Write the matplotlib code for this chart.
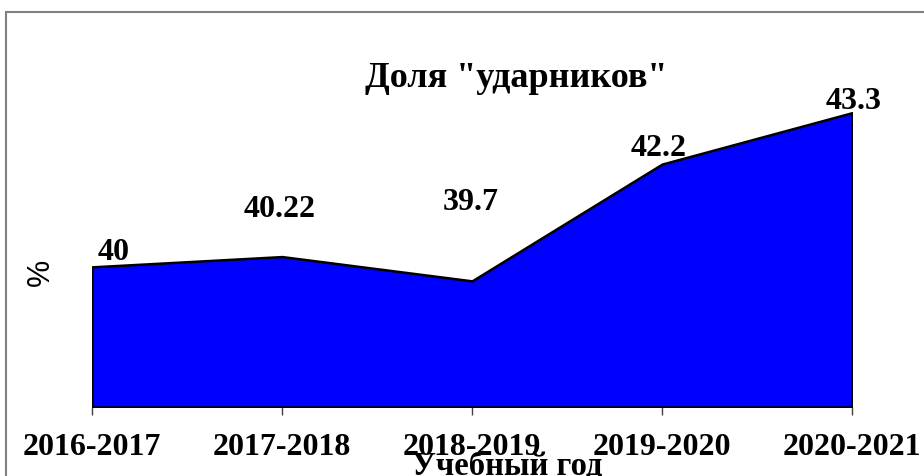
import matplotlib.pyplot as plt
from matplotlib.patches import Rectangle

years = ['2016-2017', '2017-2018', '2018-2019', '2019-2020', '2020-2021']
share = [40, 40.22, 39.7, 42.2, 43.3]
value_labels = ['40', '40.22', '39.7', '42.2', '43.3']

# смещения подписей значений (в пикселях, до базовой линии текста)
label_offsets = [(22, 8), (-2, 41), (-1, 72), (-3, 9), (2, 5)]

W, H = 924, 477
fig = plt.figure(figsize=(W / 100, H / 100), dpi=100)

# серая рамка вокруг всей диаграммы
fig.patches.append(Rectangle((6 / W, -0.1), 1.2, 1 - 13 / H + 0.1,
                             transform=fig.transFigure, fill=False,
                             edgecolor='#808080', linewidth=1.5))

ax = fig.add_axes([92 / W, (H - 408) / H, 760 / W, 327 / H])
x = list(range(len(years)))
ax.fill_between(x, share, 37, facecolor='#0000FF', edgecolor='black',
                linewidth=1.8, zorder=2)

ax.set_xlim(0, len(years) - 1)
ax.set_ylim(37, 44)
ax.set_facecolor('none')
for s in ax.spines.values():
    s.set_visible(False)
ax.set_yticks([])
ax.set_xticks(x)
ax.set_xticklabels(years, fontfamily='Liberation Serif', fontweight='bold',
                   fontsize=23)
ax.tick_params(axis='x', direction='out', length=6, width=1,
               color='#404040', pad=12)

for xi, v, lab, (dx, dy) in zip(x, share, value_labels, label_offsets):
    ax.annotate(lab, (xi, v), xytext=(dx, dy), textcoords='offset pixels',
                ha='center', va='baseline', fontfamily='Liberation Serif',
                fontweight='bold', fontsize=23, annotation_clip=False)

fig.text(516 / W, 1 - 87 / H, 'Доля "ударников"',
         fontfamily='Liberation Serif', fontweight='bold', fontsize=26,
         ha='center', va='baseline')
fig.text(507 / W, 1 - 475 / H, 'Учебный год',
         fontfamily='Liberation Serif', fontweight='bold', fontsize=23.5,
         ha='center', va='baseline')
fig.text(41 / W, 1 - 272 / H, '%', fontfamily='Liberation Sans',
         fontsize=22, rotation=90, ha='center', va='center')

fig.savefig('out.png', dpi=100)
